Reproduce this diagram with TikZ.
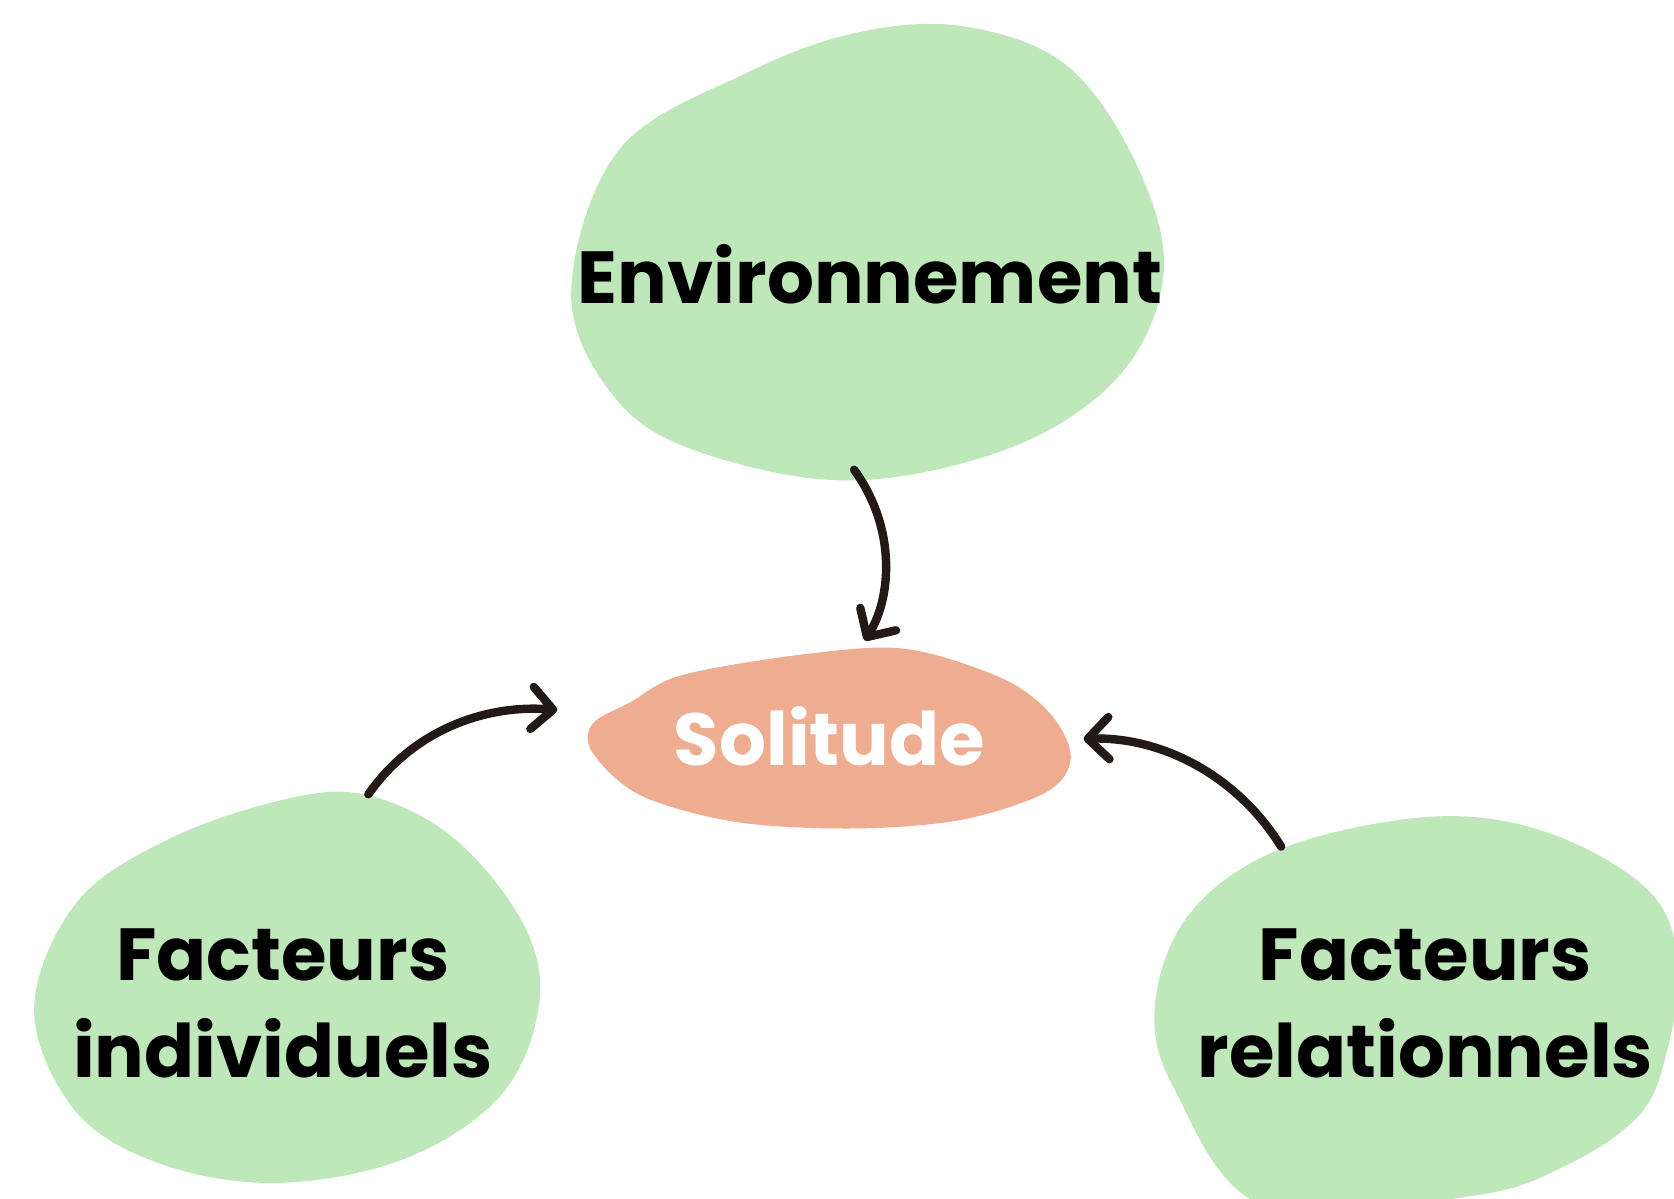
\documentclass[tikz,border=0pt]{standalone}
\usepackage{fontspec}
\setmainfont{Poppins}
\usetikzlibrary{arrows.meta}
\definecolor{blobgreen}{HTML}{BFE8BA}
\definecolor{blobsalmon}{HTML}{EEAC91}
\definecolor{arrowdark}{HTML}{231A17}
\tikzset{
	label/.style={font=\fontsize{21}{27.5}\selectfont\bfseries, align=center},
	link/.style={draw=arrowdark, line width=2.4pt, line cap=round, -{Straight Barb[round,length=6pt,width=12pt]}}
}
\begin{document}
\begin{tikzpicture}[x=0.010676cm, y=-0.010676cm]
	\useasboundingbox (0,0) rectangle (1568,1123);
	\begin{scope}
		\clip (0,0) rectangle (1568,1123);
		\fill[blobgreen] plot[smooth cycle, tension=0.6] coordinates {(805,30) (905,25) (1000,62) (1065,155) (1090,255) (1050,350) (950,418) (800,450) (660,425) (578,375) (535,275) (580,140) (700,68)};
		\fill[blobgreen] plot[smooth cycle, tension=0.6] coordinates {(270,748) (345,745) (425,785) (490,865) (505,940) (470,1025) (380,1085) (260,1108) (150,1090) (70,1040) (32,945) (72,845) (160,785)};
		\fill[blobgreen] plot[smooth cycle, tension=0.6] coordinates {(1200,795) (1340,765) (1450,780) (1545,835) (1572,905) (1560,990) (1535,1045) (1470,1090) (1380,1120) (1185,1130) (1100,1020) (1082,940) (1115,855)};
		\fill[blobsalmon] plot[smooth cycle, tension=0.55] coordinates {(590,658) (640,632) (760,612) (850,608) (940,636) (985,670) (1003,710) (980,742) (900,768) (800,776) (690,770) (600,745) (555,705) (555,678)};
	\end{scope}

	\node[label] (env) at (815,257) {Environnement};
	\node[label, text=white] (sol) at (777,690) {Solitude};
	\node[label] (indiv) at (265,940) {Facteurs\\individuels};
	\node[label] (rel) at (1335,940) {Facteurs\\relationnels};

	\coordinate (envout) at (800,440);
	\coordinate (solin1) at (810,600);
	\coordinate (indivout) at (345,744);
	\coordinate (solin2) at (522,665);
	\coordinate (relout) at (1200,793);
	\coordinate (solin3) at (1015,692);

	\draw[link] (envout) .. controls (840,495) and (835,560) .. (solin1);
	\draw[link] (indivout) .. controls (390,680) and (460,660) .. (solin2);
	\draw[link] (relout) .. controls (1160,728) and (1090,690) .. (solin3);
\end{tikzpicture}
\end{document}
